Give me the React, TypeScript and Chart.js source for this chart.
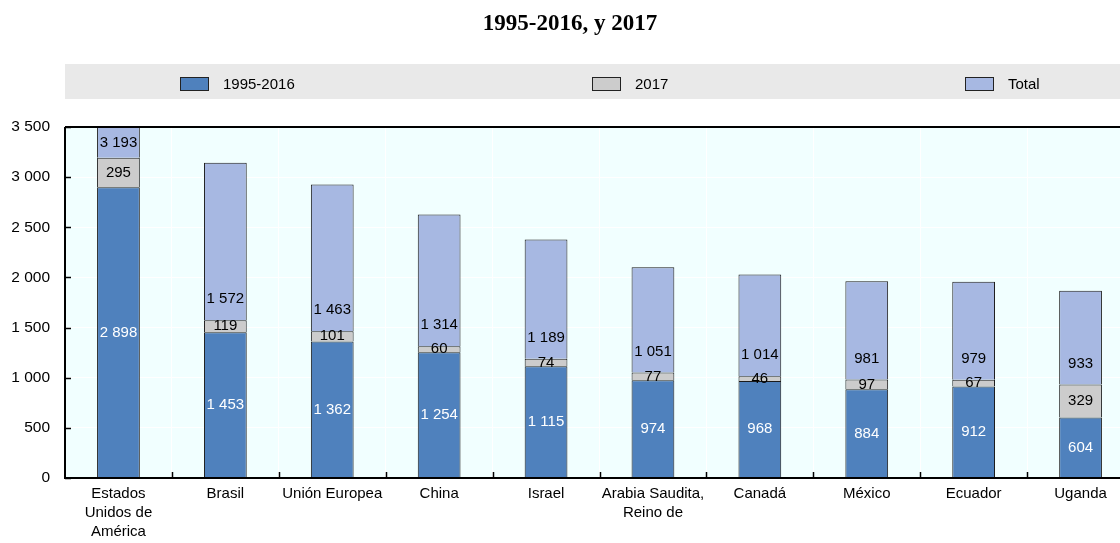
import React, { useEffect, useRef } from "react";
import { Chart, registerables } from "chart.js";

Chart.register(...registerables);

const title = "1995-2016, y 2017";
const categories: (string | string[])[] = [
  ["Estados", "Unidos de", "América"],
  "Brasil",
  "Unión Europea",
  "China",
  "Israel",
  ["Arabia Saudita,", "Reino de"],
  "Canadá",
  "México",
  "Ecuador",
  "Uganda",
];
const seriesNames = ["1995-2016", "2017", "Total"];
const values19952016 = [2898, 1453, 1362, 1254, 1115, 974, 968, 884, 912, 604];
const values2017 = [295, 119, 101, 60, 74, 77, 46, 97, 67, 329];
const valuesTotal = [3193, 1572, 1463, 1314, 1189, 1051, 1014, 981, 979, 933];
const yTicks = [0, 500, 1000, 1500, 2000, 2500, 3000, 3500];

const colors = ["#4F81BD", "#CCCCCC", "#A7B8E2"];
const labelColors = ["#FFFFFF", "#000000", "#000000"];
const FONT = "'Liberation Sans', Arial, sans-serif";

const fmt = (v: number) => String(v).replace(/\B(?=(\d{3})+(?!\d))/g, " ");

const decorPlugin = {
  id: "decor",
  beforeDraw(chart: any) {
    const { ctx, chartArea: a, width } = chart;
    ctx.save();
    ctx.fillStyle = "#F1FFFF";
    ctx.fillRect(a.left, a.top, a.right - a.left, a.bottom - a.top);
    // title
    ctx.fillStyle = "#000";
    ctx.font = "bold 23px 'Liberation Serif', 'Times New Roman', serif";
    ctx.textAlign = "center";
    ctx.textBaseline = "middle";
    ctx.fillText(title, width / 2, 24);
    // legend box
    ctx.fillStyle = "#E9E9E9";
    ctx.fillRect(a.left, 64, width - a.left, 35);
    const xs = [180, 592, 965];
    ctx.font = "15px " + FONT;
    ctx.textAlign = "left";
    seriesNames.forEach((n, i) => {
      ctx.fillStyle = colors[i];
      ctx.fillRect(xs[i] + 0.5, 77.5, 28, 13);
      ctx.strokeStyle = "#222";
      ctx.lineWidth = 1;
      ctx.strokeRect(xs[i] + 0.5, 77.5, 28, 13);
      ctx.fillStyle = "#000";
      ctx.fillText(n, xs[i] + 43, 84.5);
    });
    ctx.restore();
  },
  afterDatasetsDraw(chart: any) {
    const { ctx, chartArea: a } = chart;
    ctx.save();
    ctx.font = "15px " + FONT;
    ctx.textAlign = "center";
    ctx.textBaseline = "middle";
    chart.data.datasets.forEach((ds: any, di: number) => {
      const meta = chart.getDatasetMeta(di);
      meta.data.forEach((bar: any, i: number) => {
        const top = Math.max(bar.y, a.top);
        const base = bar.base;
        let y = (top + base) / 2;
        if (di === 2) y = Math.max(base - 21, y);
        ctx.fillStyle = labelColors[di];
        ctx.fillText(fmt(ds.data[i]), bar.x, y);
      });
    });
    ctx.restore();
  },
  afterDraw(chart: any) {
    const { ctx, chartArea: a, width } = chart;
    const xs = chart.scales.x;
    const ys = chart.scales.y;
    ctx.save();
    ctx.strokeStyle = "#000";
    ctx.lineWidth = 1.5;
    for (let i = 1; i < categories.length; i++) {
      const x = Math.round((xs.getPixelForTick(i - 1) + xs.getPixelForTick(i)) / 2) + 0.5;
      ctx.beginPath();
      ctx.moveTo(x, a.bottom);
      ctx.lineTo(x, a.bottom - 6);
      ctx.stroke();
    }
    yTicks.forEach((v) => {
      const y = Math.round(ys.getPixelForValue(v)) + 0.5;
      ctx.beginPath();
      ctx.moveTo(a.left, y);
      ctx.lineTo(a.left + 6, y);
      ctx.stroke();
    });
    ctx.lineWidth = 2;
    ctx.beginPath();
    ctx.moveTo(a.left, a.top);
    ctx.lineTo(a.left, a.bottom);
    ctx.lineTo(width, a.bottom);
    ctx.moveTo(a.left, a.top);
    ctx.lineTo(width, a.top);
    ctx.stroke();
    ctx.restore();
  },
};

export default function App() {
  const ref = useRef<HTMLCanvasElement>(null);
  useEffect(() => {
    if (!ref.current) return;
    const chart = new Chart(ref.current, {
      type: "bar",
      data: {
        labels: categories,
        datasets: [values19952016, values2017, valuesTotal].map((d, i) => ({
          label: seriesNames[i],
          data: d,
          backgroundColor: colors[i],
          borderColor: "#1a1a1a",
          borderWidth: 1,
          barPercentage: 0.4,
          categoryPercentage: 1,
        })),
      },
      options: {
        responsive: false,
        animation: false,
        layout: { padding: { top: 127, right: 6, left: 0, bottom: 0 } },
        plugins: {
          legend: { display: false },
          title: { display: false },
          tooltip: { enabled: false },
        },
        scales: {
          x: {
            stacked: true,
            grid: { color: "#FFFFFF", drawTicks: false, offset: true },
            border: { display: false },
            ticks: {
              color: "#000",
              font: { family: FONT, size: 15, lineHeight: 1.27 },
              padding: 6,
              maxRotation: 0,
              autoSkip: false,
            },
            afterFit: (s: any) => {
              s.height = 65;
            },
          },
          y: {
            stacked: true,
            min: 0,
            max: 3500,
            grid: { color: "#FFFFFF", drawTicks: false },
            border: { display: false },
            afterBuildTicks: (s: any) => {
              s.ticks = yTicks.map((v) => ({ value: v }));
            },
            ticks: {
              color: "#000",
              font: { family: FONT, size: 15.5 },
              padding: 15,
              callback: (v: any) => fmt(Number(v)),
            },
            afterFit: (s: any) => {
              s.width = 65;
            },
          },
        },
      },
      plugins: [decorPlugin],
    });
    return () => chart.destroy();
  }, []);
  return (
    <div
      style={{
        position: "absolute",
        left: 0,
        top: 0,
        width: 1120,
        height: 543,
        overflow: "hidden",
        background: "#fff",
      }}
    >
      <canvas ref={ref} width={1140} height={543} style={{ width: 1140, height: 543 }} />
    </div>
  );
}
